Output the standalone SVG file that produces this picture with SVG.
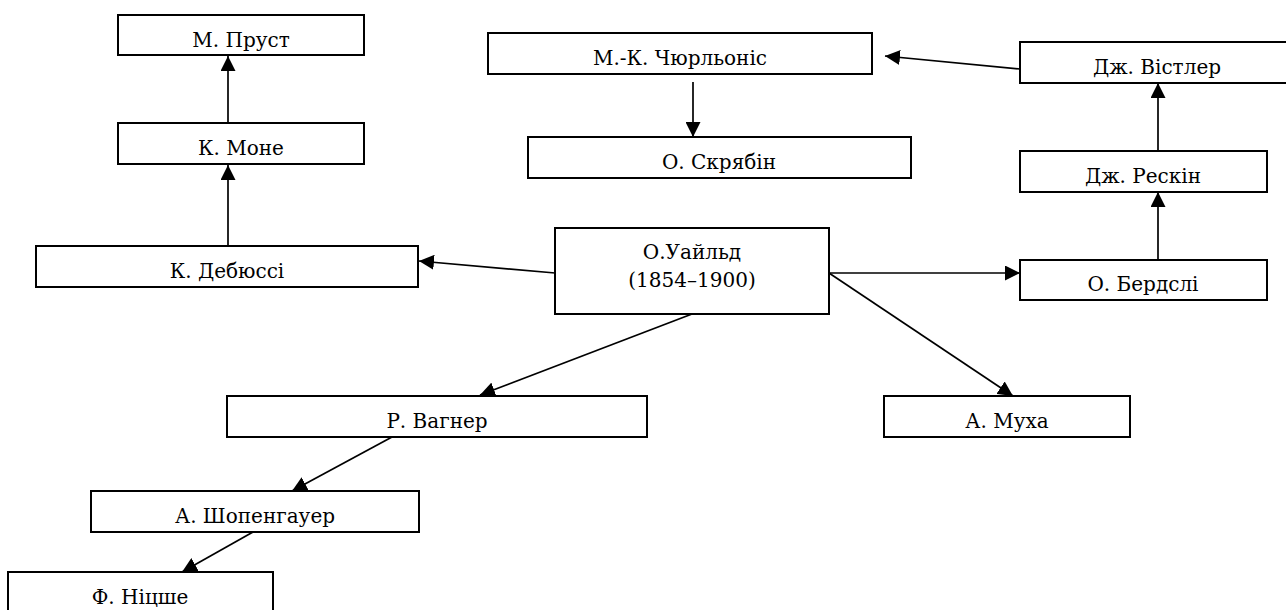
<svg xmlns="http://www.w3.org/2000/svg" width="1286" height="610" viewBox="0 0 1286 610">
<style>
.box{fill:#fff;stroke:#000;stroke-width:2}
.t{font-family:'DejaVu Serif',serif;font-size:20px;fill:#000;text-anchor:middle}
.c{stroke:#000;stroke-width:1.7;fill:none;marker-end:url(#ah)}
</style>
<defs>
<marker id="ah" markerUnits="userSpaceOnUse" markerWidth="16" markerHeight="15" refX="15" refY="7.5" orient="auto">
<path d="M0,0 L15,7.5 L0,15 z" fill="#000"/>
</marker>
</defs>
<rect width="1286" height="610" fill="#fff"/>
<g id="connectors">
<line class="c" x1="228" y1="123" x2="228" y2="56"/>
<line class="c" x1="228" y1="246" x2="228" y2="165"/>
<line class="c" x1="555" y1="273" x2="419" y2="261"/>
<line class="c" x1="829" y1="273" x2="1020" y2="273"/>
<line class="c" x1="829" y1="273" x2="1013" y2="396"/>
<line class="c" x1="692" y1="314" x2="480" y2="395"/>
<line class="c" x1="392" y1="437" x2="292" y2="491"/>
<line class="c" x1="253" y1="532" x2="182" y2="572"/>
<line class="c" x1="693" y1="82" x2="693" y2="137"/>
<line class="c" x1="1158" y1="260" x2="1158" y2="192"/>
<line class="c" x1="1158" y1="151" x2="1158" y2="83"/>
<line class="c" x1="1020" y1="69" x2="885" y2="56"/>
</g>
<g id="n-proust"><rect class="box" x="118" y="15" width="246" height="40"/><text class="t" x="241" y="47">М. Пруст</text></g>
<g id="n-monet"><rect class="box" x="118" y="123" width="246" height="41"/><text class="t" x="241" y="155">К. Моне</text></g>
<g id="n-debussy"><rect class="box" x="36" y="246" width="382" height="41"/><text class="t" x="227" y="278">К. Дебюссі</text></g>
<g id="n-ciurlionis"><rect class="box" x="488" y="33" width="384" height="41"/><text class="t" x="680" y="65">М.-К. Чюрльоніс</text></g>
<g id="n-scriabin"><rect class="box" x="528" y="137" width="383" height="41"/><text class="t" x="719" y="169">О. Скрябін</text></g>
<g id="n-wilde"><rect class="box" x="555" y="228" width="274" height="86"/><text class="t" x="692" y="259">О.Уайльд</text><text class="t" x="692" y="287">(1854–1900)</text></g>
<g id="n-whistler"><rect class="box" x="1020" y="42" width="274" height="41"/><text class="t" x="1157" y="74">Дж. Вістлер</text></g>
<g id="n-ruskin"><rect class="box" x="1020" y="151" width="247" height="41"/><text class="t" x="1143" y="183">Дж. Рескін</text></g>
<g id="n-beardsley"><rect class="box" x="1020" y="260" width="247" height="40"/><text class="t" x="1143" y="291">О. Бердслі</text></g>
<g id="n-mucha"><rect class="box" x="884" y="396" width="246" height="41"/><text class="t" x="1007" y="428">А. Муха</text></g>
<g id="n-wagner"><rect class="box" x="227" y="396" width="420" height="41"/><text class="t" x="437" y="428">Р. Вагнер</text></g>
<g id="n-schopenhauer"><rect class="box" x="91" y="491" width="328" height="41"/><text class="t" x="255" y="523">А. Шопенгауер</text></g>
<g id="n-nietzsche"><rect class="box" x="8" y="572" width="265" height="45"/><text class="t" x="140" y="604">Ф. Ніцше</text></g>
</svg>
